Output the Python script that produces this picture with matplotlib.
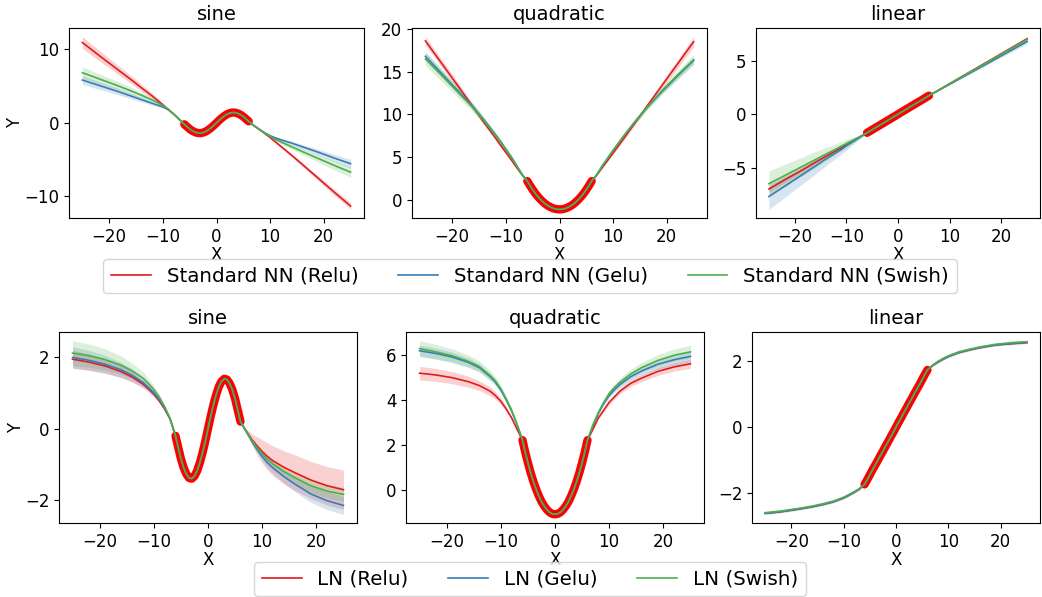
import numpy as np
import matplotlib.pyplot as plt

# training inputs (thick red segment)
x_train = [-6, -5.5, -5, -4.5, -4, -3.5, -3, -2.5, -2, -1.5, -1, -0.5, 0,
           0.5, 1, 1.5, 2, 2.5, 3, 3.5, 4, 4.5, 5, 5.5, 6]
y_train_sine = [-0.2, -0.52, -0.84, -1.09, -1.27, -1.38, -1.40, -1.33, -1.18, -0.95, -0.67, -0.35, 0.0,
                0.35, 0.67, 0.95, 1.18, 1.33, 1.40, 1.38, 1.27, 1.09, 0.84, 0.52, 0.2]
y_train_quad = [2.21, 1.68, 1.2, 0.76, 0.37, 0.03, -0.27, -0.53, -0.73, -0.89, -1.01, -1.08, -1.1,
                -1.08, -1.01, -0.89, -0.73, -0.53, -0.27, 0.03, 0.37, 0.76, 1.2, 1.68, 2.21]
y_train_lin = [-1.74, -1.6, -1.45, -1.3, -1.16, -1.02, -0.87, -0.73, -0.58, -0.44, -0.29, -0.15, 0.0,
               0.15, 0.29, 0.44, 0.58, 0.73, 0.87, 1.02, 1.16, 1.3, 1.45, 1.6, 1.74]

# extrapolation points outside the training range
x_left = [-25, -22, -19, -16, -14, -12, -11, -10, -9, -8, -7]
x_right = [7, 8, 9, 10, 11, 12, 14, 16, 19, 22, 25]

# order of series: Relu, Gelu, Swish
# ---- standard NN ----
nn_sine_left = [[10.9, 9.2, 7.55, 5.9, 4.75, 3.65, 3.05, 2.45, 1.8, 1.2, 0.5],
                [5.8, 5.1, 4.4, 3.65, 3.15, 2.65, 2.4, 2.15, 1.8, 1.2, 0.5],
                [6.8, 6.0, 5.2, 4.35, 3.75, 3.1, 2.75, 2.35, 1.85, 1.2, 0.5]]
nn_sine_right = [[-0.4, -0.9, -1.45, -2.0, -2.6, -3.2, -4.4, -5.65, -7.55, -9.45, -11.3],
                 [-0.4, -0.9, -1.35, -1.75, -2.05, -2.3, -2.75, -3.25, -4.0, -4.8, -5.55],
                 [-0.4, -0.9, -1.4, -1.85, -2.25, -2.6, -3.25, -3.9, -4.85, -5.8, -6.7]]
nn_sine_sl = [[0.8, 0.72, 0.63, 0.54, 0.46, 0.36, 0.3, 0.25, 0.15, 0.1, 0.05],
              [0.6, 0.52, 0.45, 0.38, 0.32, 0.25, 0.2, 0.15, 0.1, 0.05, 0.02],
              [0.8, 0.7, 0.6, 0.5, 0.4, 0.3, 0.25, 0.2, 0.1, 0.05, 0.02]]
nn_sine_sr = [[0.02, 0.05, 0.08, 0.1, 0.12, 0.15, 0.2, 0.25, 0.32, 0.4, 0.45],
              [0.02, 0.05, 0.1, 0.15, 0.17, 0.2, 0.25, 0.3, 0.4, 0.5, 0.6],
              [0.02, 0.05, 0.1, 0.15, 0.2, 0.25, 0.3, 0.38, 0.5, 0.6, 0.7]]

nn_quad_left = [[18.6, 16.0, 13.4, 10.75, 9.0, 7.3, 6.4, 5.55, 4.7, 3.8, 2.95],
                [16.8, 14.8, 12.8, 10.8, 9.3, 7.7, 6.85, 5.95, 5.05, 4.05, 3.0],
                [16.5, 14.6, 12.65, 10.7, 9.2, 7.6, 6.8, 5.9, 5.0, 4.0, 3.0]]
nn_quad_right = [[2.95, 3.8, 4.65, 5.5, 6.35, 7.2, 8.95, 10.7, 13.3, 15.9, 18.5],
                 [3.0, 4.0, 4.9, 5.8, 6.65, 7.5, 9.1, 10.6, 12.6, 14.5, 16.3],
                 [3.0, 4.0, 4.9, 5.8, 6.65, 7.5, 9.1, 10.6, 12.7, 14.6, 16.4]]
nn_quad_sl = [[0.5, 0.45, 0.4, 0.32, 0.28, 0.2, 0.17, 0.15, 0.1, 0.05, 0.02],
              [0.5, 0.45, 0.4, 0.32, 0.28, 0.2, 0.17, 0.15, 0.1, 0.05, 0.02],
              [0.8, 0.7, 0.6, 0.5, 0.4, 0.3, 0.25, 0.2, 0.1, 0.05, 0.02]]
nn_quad_sr = [[0.02, 0.05, 0.1, 0.15, 0.17, 0.2, 0.25, 0.3, 0.4, 0.5, 0.6],
              [0.02, 0.05, 0.1, 0.1, 0.12, 0.15, 0.18, 0.2, 0.27, 0.33, 0.4],
              [0.02, 0.05, 0.1, 0.15, 0.17, 0.2, 0.25, 0.3, 0.4, 0.5, 0.6]]

nn_lin_left = [[-7.0, -6.15, -5.35, -4.5, -3.95, -3.4, -3.15, -2.85, -2.55, -2.3, -2.0],
               [-7.7, -6.75, -5.8, -4.85, -4.2, -3.6, -3.3, -2.95, -2.65, -2.35, -2.05],
               [-6.5, -5.75, -5.0, -4.25, -3.75, -3.25, -3.0, -2.75, -2.5, -2.25, -2.0]]
nn_lin_right = [[2.02, 2.3, 2.58, 2.86, 3.14, 3.42, 3.98, 4.54, 5.38, 6.22, 7.06],
                [2.0, 2.27, 2.54, 2.8, 3.07, 3.34, 3.87, 4.4, 5.2, 6.0, 6.8],
                [2.02, 2.3, 2.57, 2.85, 3.12, 3.4, 3.95, 4.5, 5.33, 6.17, 7.0]]
nn_lin_sl = [[0.3, 0.27, 0.23, 0.2, 0.17, 0.15, 0.12, 0.1, 0.08, 0.05, 0.02],
             [1.2, 1.05, 0.9, 0.75, 0.62, 0.5, 0.45, 0.4, 0.3, 0.2, 0.1],
             [1.2, 1.05, 0.9, 0.75, 0.62, 0.5, 0.45, 0.4, 0.3, 0.2, 0.1]]
nn_lin_sr = [[0.02, 0.03, 0.04, 0.05, 0.06, 0.08, 0.1, 0.12, 0.15, 0.18, 0.2]] * 3

# ---- LN ----
ln_sine_left = [[1.95, 1.87, 1.76, 1.6, 1.45, 1.25, 1.12, 0.97, 0.78, 0.55, 0.27],
                [2.0, 1.92, 1.81, 1.65, 1.5, 1.3, 1.16, 1.01, 0.82, 0.58, 0.28],
                [2.12, 2.05, 1.94, 1.78, 1.62, 1.42, 1.27, 1.1, 0.89, 0.62, 0.29]]
ln_sine_right = [[-0.05, -0.28, -0.47, -0.64, -0.78, -0.9, -1.08, -1.23, -1.44, -1.6, -1.71],
                 [-0.07, -0.33, -0.57, -0.78, -0.96, -1.1, -1.34, -1.55, -1.83, -2.02, -2.15],
                 [-0.06, -0.3, -0.52, -0.7, -0.86, -0.99, -1.2, -1.37, -1.6, -1.75, -1.84]]
ln_sine_sl = [[0.25, 0.23, 0.2, 0.17, 0.14, 0.1, 0.08, 0.07, 0.05, 0.03, 0.02],
              [0.3, 0.28, 0.25, 0.21, 0.18, 0.14, 0.11, 0.09, 0.06, 0.04, 0.02],
              [0.35, 0.33, 0.3, 0.26, 0.22, 0.18, 0.14, 0.11, 0.08, 0.05, 0.02]]
ln_sine_sr = [[0.05, 0.15, 0.25, 0.33, 0.38, 0.42, 0.46, 0.5, 0.52, 0.54, 0.55],
              [0.03, 0.06, 0.09, 0.12, 0.14, 0.16, 0.19, 0.21, 0.24, 0.25, 0.25],
              [0.03, 0.05, 0.07, 0.09, 0.1, 0.12, 0.14, 0.16, 0.18, 0.19, 0.2]]

ln_quad_left = [[5.2, 5.12, 5.0, 4.82, 4.65, 4.4, 4.2, 3.95, 3.6, 3.2, 2.7],
                [6.2, 6.08, 5.92, 5.68, 5.45, 5.05, 4.8, 4.45, 4.0, 3.5, 2.9],
                [6.3, 6.15, 5.98, 5.73, 5.5, 5.1, 4.85, 4.5, 4.05, 3.55, 2.92]]
ln_quad_right = [[2.7, 3.2, 3.55, 3.9, 4.15, 4.4, 4.75, 4.98, 5.28, 5.48, 5.62],
                 [2.85, 3.4, 3.85, 4.2, 4.47, 4.7, 5.05, 5.3, 5.6, 5.8, 5.95],
                 [2.9, 3.45, 3.9, 4.3, 4.57, 4.8, 5.17, 5.45, 5.77, 6.0, 6.15]]
ln_quad_sl = [[0.3, 0.29, 0.27, 0.25, 0.22, 0.2, 0.17, 0.15, 0.1, 0.06, 0.03],
              [0.25, 0.24, 0.22, 0.2, 0.17, 0.15, 0.13, 0.12, 0.08, 0.05, 0.03],
              [0.35, 0.33, 0.31, 0.28, 0.25, 0.22, 0.18, 0.15, 0.1, 0.06, 0.03]]
ln_quad_sr = [[0.03, 0.05, 0.08, 0.1, 0.11, 0.12, 0.14, 0.16, 0.18, 0.19, 0.2],
              [0.03, 0.05, 0.08, 0.1, 0.12, 0.15, 0.18, 0.2, 0.22, 0.24, 0.25],
              [0.03, 0.05, 0.08, 0.12, 0.15, 0.18, 0.21, 0.23, 0.26, 0.28, 0.3]]

ln_lin_left = [[-2.62, -2.57, -2.5, -2.42, -2.35, -2.27, -2.21, -2.15, -2.07, -1.98, -1.88],
               [-2.62, -2.57, -2.5, -2.42, -2.35, -2.27, -2.21, -2.15, -2.07, -1.98, -1.88],
               [-2.6, -2.55, -2.48, -2.4, -2.33, -2.25, -2.19, -2.13, -2.05, -1.96, -1.87]]
ln_lin_right = [[1.88, 1.98, 2.07, 2.15, 2.21, 2.27, 2.35, 2.42, 2.5, 2.54, 2.57],
                [1.88, 1.98, 2.07, 2.15, 2.21, 2.27, 2.35, 2.42, 2.5, 2.54, 2.58],
                [1.89, 2.0, 2.09, 2.17, 2.23, 2.29, 2.37, 2.44, 2.52, 2.57, 2.6]]
ln_lin_sl = [[0.03] * 11] * 3
ln_lin_sr = [[0.03] * 11] * 3

titles = ['sine', 'quadratic', 'linear']
colors = ['#e41a1c', '#377eb8', '#4daf4a']
nn_labels = ['Standard NN (Relu)', 'Standard NN (Gelu)', 'Standard NN (Swish)']
ln_labels = ['LN (Relu)', 'LN (Gelu)', 'LN (Swish)']

W, H = 1042, 597
fig = plt.figure(figsize=(W / 100, H / 100), dpi=100)


def px_axes(x0, x1, y0, y1):
    return fig.add_axes([x0 / W, 1 - y1 / H, (x1 - x0) / W, (y1 - y0) / H])


def draw(ax, y_train, left, right, sl, sr, labels, title, ylabel):
    ax.plot(x_train, y_train, '-', color='red', lw=6, solid_capstyle='round')
    x_all = np.array(x_left + x_train + x_right)
    zero = [0.0] * len(x_train)
    lines = []
    for i in range(3):
        y = np.array(left[i] + y_train + right[i])
        s = np.array(sl[i] + zero + sr[i])
        ax.fill_between(x_all, y - s, y + s, color=colors[i], alpha=0.2, lw=0)
        ln, = ax.plot(x_all, y, color=colors[i], lw=1.2, label=labels[i])
        lines.append(ln)
    ax.set_xticks([-20, -10, 0, 10, 20])
    ax.set_title(title, fontsize=14)
    ax.set_xlabel('X', fontsize=12, labelpad=0)
    if ylabel:
        ax.set_ylabel('Y', fontsize=12, labelpad=0)
    ax.tick_params(labelsize=12)
    return lines


top_x = [(69, 364), (412, 707), (756, 1040)]
bot_x = [(59, 357), (406, 704), (752, 1040)]

nn_data = [(y_train_sine, nn_sine_left, nn_sine_right, nn_sine_sl, nn_sine_sr),
           (y_train_quad, nn_quad_left, nn_quad_right, nn_quad_sl, nn_quad_sr),
           (y_train_lin, nn_lin_left, nn_lin_right, nn_lin_sl, nn_lin_sr)]
ln_data = [(y_train_sine, ln_sine_left, ln_sine_right, ln_sine_sl, ln_sine_sr),
           (y_train_quad, ln_quad_left, ln_quad_right, ln_quad_sl, ln_quad_sr),
           (y_train_lin, ln_lin_left, ln_lin_right, ln_lin_sl, ln_lin_sr)]

for j in range(3):
    ax = px_axes(top_x[j][0], top_x[j][1], 28, 218)
    h = draw(ax, *nn_data[j], nn_labels, titles[j], j == 0)
    if j == 0:
        handles_nn = h
for j in range(3):
    ax = px_axes(bot_x[j][0], bot_x[j][1], 332, 523)
    h = draw(ax, *ln_data[j], ln_labels, titles[j], j == 0)
    if j == 0:
        handles_ln = h

fig.legend(handles=handles_nn, loc='center', bbox_to_anchor=(530 / W, 1 - 276 / H),
           ncol=3, fontsize=14.3)
fig.legend(handles=handles_ln, loc='center', bbox_to_anchor=(530 / W, 1 - 579 / H),
           ncol=3, fontsize=14.3)

fig.savefig('out.png', dpi=100)
